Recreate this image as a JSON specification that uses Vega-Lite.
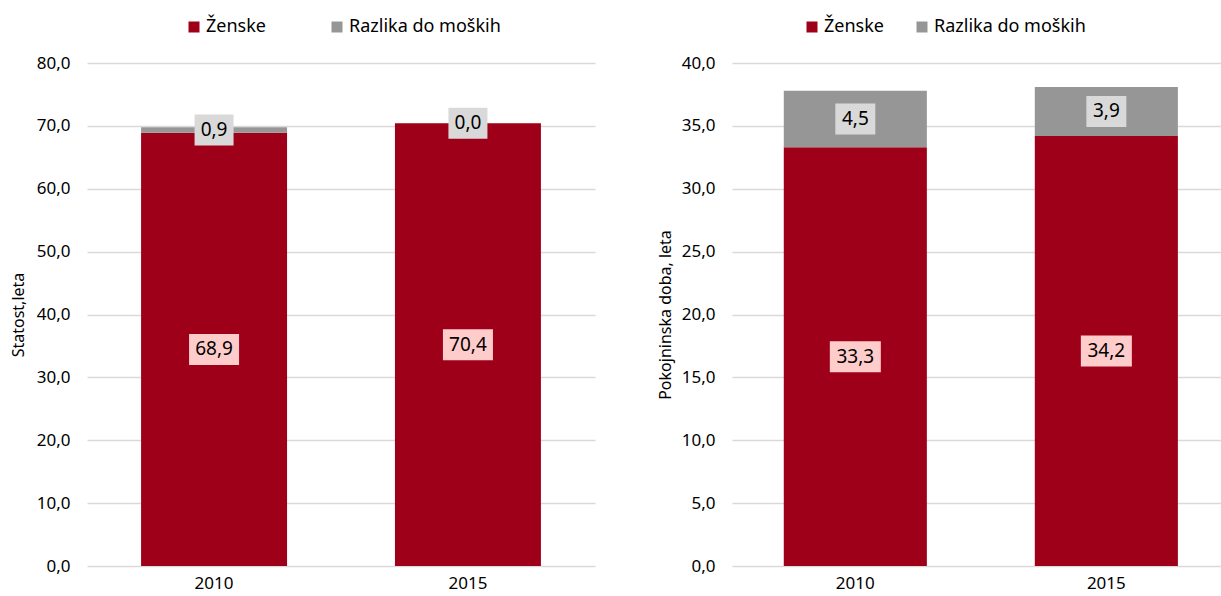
{
  "$schema": "https://vega.github.io/schema/vega-lite/v6.json",
  "padding": {"left": 10, "top": 18, "right": 0, "bottom": 4},
  "spacing": 62,
  "config": {
    "font": "Noto Sans",
    "view": {"stroke": null},
    "axis": {"labelFont": "Noto Sans", "titleFont": "Noto Sans", "labelColor": "#000000", "titleColor": "#000000"},
    "legend": {"labelFont": "Noto Sans", "labelColor": "#000000", "padding": 0}
  },
  "datasets": {
    "starost": [
      {"year": "2010", "series": "Ženske", "order": 1, "value": 68.9},
      {"year": "2010", "series": "Razlika do moških", "order": 2, "value": 0.9},
      {"year": "2015", "series": "Ženske", "order": 1, "value": 70.4},
      {"year": "2015", "series": "Razlika do moških", "order": 2, "value": 0.0}
    ],
    "doba": [
      {"year": "2010", "series": "Ženske", "order": 1, "value": 33.3},
      {"year": "2010", "series": "Razlika do moških", "order": 2, "value": 4.5},
      {"year": "2015", "series": "Ženske", "order": 1, "value": 34.2},
      {"year": "2015", "series": "Razlika do moških", "order": 2, "value": 3.9}
    ]
  },
  "hconcat": [
    {
      "width": 508,
      "height": 503,
      "data": {"name": "starost"},
      "transform": [
        {"stack": "value", "groupby": ["year"], "sort": [{"field": "order", "order": "ascending"}], "as": ["y0", "y1"]},
        {"calculate": "(datum.y0 + datum.y1) / 2", "as": "mid"},
        {"calculate": "replace(format(datum.value, '.1f'), '.', ',')", "as": "label"}
      ],
      "encoding": {
        "x": {
          "field": "year", "type": "nominal",
          "scale": {"paddingInner": 0.425, "paddingOuter": 0.213},
          "axis": {"title": null, "labelAngle": 0, "labelFontSize": 17, "labelPadding": 9, "ticks": false, "tickSize": 0, "domain": false, "grid": false}
        }
      },
      "layer": [
        {
          "mark": {"type": "bar"},
          "encoding": {
            "y": {
              "field": "y0", "type": "quantitative",
              "scale": {"domain": [0, 80], "nice": false},
              "axis": {"title": "Statost,leta", "titleFontSize": 16, "titleFontWeight": "normal", "titlePadding": 10,
                "values": [0, 10, 20, 30, 40, 50, 60, 70, 80], "labelFontSize": 17, "labelPadding": 17,
                "ticks": false, "tickSize": 0, "domain": false, "grid": true, "gridColor": "#D9D9D9", "gridWidth": 1.3,
                "labelExpr": "replace(format(datum.value, '.1f'), '.', ',')"}
            },
            "y2": {"field": "y1"},
            "color": {
              "field": "series", "type": "nominal",
              "scale": {"domain": ["Ženske", "Razlika do moških"], "range": ["#9E0019", "#969696"]},
              "legend": {"title": null, "orient": "none", "direction": "horizontal", "legendX": 98, "legendY": -45,
                "symbolType": "square", "symbolSize": 121, "symbolStrokeWidth": 0, "labelFontSize": 18, "labelOffset": 3, "columnPadding": 62}
            }
          }
        },
        {
          "mark": {"type": "bar", "yOffset": -15.5, "y2Offset": 15.5},
          "encoding": {
            "y": {"field": "mid", "type": "quantitative"},
            "y2": {"field": "mid"},
            "size": {"condition": {"test": "length(datum.label) > 3", "value": 50}, "value": 39},
            "fill": {"condition": {"test": "datum.series === 'Ženske'", "value": "#FFCCCC"}, "value": "#D9D9D9"}
          }
        },
        {
          "mark": {"type": "text", "fontSize": 19, "color": "#000000", "baseline": "middle", "align": "center"},
          "encoding": {
            "y": {"field": "mid", "type": "quantitative"},
            "text": {"field": "label", "type": "nominal"}
          }
        }
      ]
    },
    {
      "width": 490,
      "height": 503,
      "data": {"name": "doba"},
      "transform": [
        {"stack": "value", "groupby": ["year"], "sort": [{"field": "order", "order": "ascending"}], "as": ["y0", "y1"]},
        {"calculate": "(datum.y0 + datum.y1) / 2", "as": "mid"},
        {"calculate": "replace(format(datum.value, '.1f'), '.', ',')", "as": "label"}
      ],
      "encoding": {
        "x": {
          "field": "year", "type": "nominal",
          "scale": {"paddingInner": 0.43, "paddingOuter": 0.191, "align": 0.54},
          "axis": {"title": null, "labelAngle": 0, "labelFontSize": 17, "labelPadding": 9, "ticks": false, "tickSize": 0, "domain": false, "grid": false}
        }
      },
      "layer": [
        {
          "mark": {"type": "bar"},
          "encoding": {
            "y": {
              "field": "y0", "type": "quantitative",
              "scale": {"domain": [0, 40], "nice": false},
              "axis": {"title": "Pokojninska doba, leta", "titleFontSize": 16, "titleFontWeight": "normal", "titlePadding": 8,
                "values": [0, 5, 10, 15, 20, 25, 30, 35, 40], "labelFontSize": 17, "labelPadding": 17,
                "ticks": false, "tickSize": 0, "domain": false, "grid": true, "gridColor": "#D9D9D9", "gridWidth": 1.3,
                "labelExpr": "replace(format(datum.value, '.1f'), '.', ',')"}
            },
            "y2": {"field": "y1"},
            "color": {
              "field": "series", "type": "nominal",
              "scale": {"domain": ["Ženske", "Razlika do moških"], "range": ["#9E0019", "#969696"]},
              "legend": {"title": null, "orient": "none", "direction": "horizontal", "legendX": 71, "legendY": -45,
                "symbolType": "square", "symbolSize": 121, "symbolStrokeWidth": 0, "labelFontSize": 18, "labelOffset": 3, "columnPadding": 29}
            }
          }
        },
        {
          "mark": {"type": "bar", "yOffset": -15.5, "y2Offset": 15.5},
          "encoding": {
            "y": {"field": "mid", "type": "quantitative"},
            "y2": {"field": "mid"},
            "size": {"condition": {"test": "length(datum.label) > 3", "value": 51}, "value": 40},
            "fill": {"condition": {"test": "datum.series === 'Ženske'", "value": "#FFCCCC"}, "value": "#D9D9D9"}
          }
        },
        {
          "mark": {"type": "text", "fontSize": 19, "color": "#000000", "baseline": "middle", "align": "center"},
          "encoding": {
            "y": {"field": "mid", "type": "quantitative"},
            "text": {"field": "label", "type": "nominal"}
          }
        }
      ]
    }
  ],
  "resolve": {"scale": {"y": "independent", "color": "independent", "x": "independent"}, "legend": {"color": "independent"}}
}
